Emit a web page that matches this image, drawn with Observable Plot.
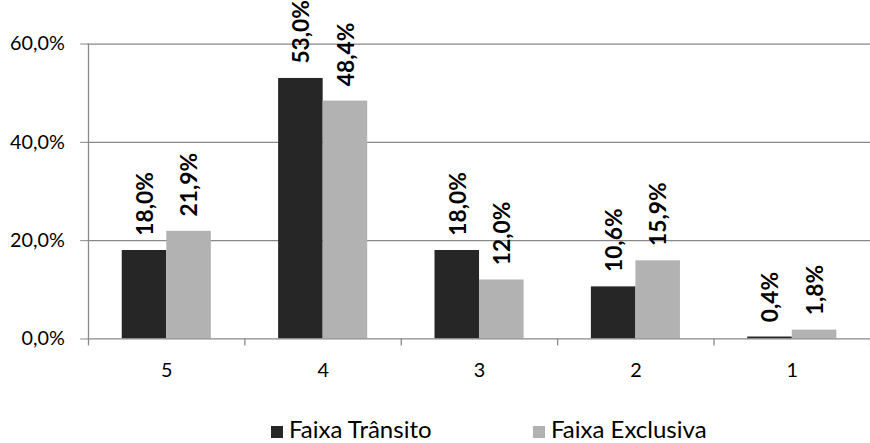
<!DOCTYPE html>
<html><head><meta charset="utf-8">
<script src="https://cdn.jsdelivr.net/npm/d3@7"></script>
<script src="https://cdn.jsdelivr.net/npm/@observablehq/plot@0.6"></script>
<style>
html,body{margin:0;padding:0;background:#fff;overflow:hidden;width:870px;height:443px;}
#wrap{position:relative;width:870px;height:443px;overflow:hidden;}
#chart svg{display:block;}
.sw{position:absolute;width:12px;height:12px;top:426px;}
.lt{position:absolute;top:415px;font-family:Lato,sans-serif;font-size:24px;line-height:28px;color:#000;white-space:nowrap;}
</style></head><body>
<div id="wrap"><div id="chart"></div><div id="legend"></div></div>
<script>
const categories = ["5","4","3","2","1"];
const series = ["Faixa Trânsito","Faixa Exclusiva"];
const transito = [18.0,53.0,18.0,10.6,0.4];
const exclusiva = [21.9,48.4,12.0,15.9,1.8];
const yTicks = [0,20,40,60];
const colors = ["#262626","#b2b2b2"];

const rowsT = categories.map((c,i)=>({cat:c, series:series[0], value:transito[i]}));
const rowsE = categories.map((c,i)=>({cat:c, series:series[1], value:exclusiva[i]}));
const fmt = v => v.toFixed(1).replace(".", ",") + "%";

const W = 879, H = 400, ML = 88, MR = 0, MT = 44, MB = 58;
const padIn = 0.431;
const step = (W - ML - MR) / categories.length;
const bw = step * (1 - padIn);
const grid = "#888888";

const chart = Plot.plot({
  width: W, height: H,
  marginLeft: ML, marginRight: MR, marginTop: MT, marginBottom: MB,
  style: {fontFamily: "Lato, sans-serif", fontSize: "20px", color: "#000", background: "#fff", overflow: "visible"},
  x: {domain: categories, paddingInner: padIn, paddingOuter: padIn/2, align: 0.5, axis: null, label: null},
  y: {domain: [0, 60], axis: null, label: null},
  marks: [
    Plot.ruleY(yTicks.filter(t => t > 0), {y: d => d, stroke: grid, strokeWidth: 1.3}),
    Plot.barY(rowsT, {x: "cat", y: "value", fill: colors[0], insetRight: bw/2}),
    Plot.barY(rowsE, {x: "cat", y: "value", fill: colors[1], insetLeft: bw/2}),
    Plot.text(rowsT, {x: "cat", y: "value", text: d => fmt(d.value), rotate: -90, textAnchor: "start", lineAnchor: "middle", dx: -bw/4 + 1, dy: -15, fontWeight: "bold", fontSize: 23, fill: "#000"}),
    Plot.text(rowsE, {x: "cat", y: "value", text: d => fmt(d.value), rotate: -90, textAnchor: "start", lineAnchor: "middle", dx: bw/4 + 1, dy: -15, fontWeight: "bold", fontSize: 23, fill: "#000"}),
    Plot.ruleY([0], {y: d => d, stroke: grid, strokeWidth: 1.3}),
    Plot.ruleX([categories[0]], {x: d => d, dx: -step/2, y1: 0, y2: 60, stroke: grid, strokeWidth: 1.3}),
    Plot.ruleX(categories, {x: d => d, dx: -step/2, y1: 0, y2: 0, insetBottom: -7, stroke: grid, strokeWidth: 1.3}),
    Plot.ruleX([categories[categories.length-1]], {x: d => d, dx: step/2, y1: 0, y2: 0, insetBottom: -7, stroke: grid, strokeWidth: 1.3}),
    Plot.axisY(yTicks, {tickSize: 7, tickPadding: 16, tickFormat: fmt, stroke: grid, fill: "#000", fontSize: 20, label: null}),
    Plot.axisX({tickSize: 0, tickPadding: 24, fill: "#000", fontSize: 20, label: null})
  ]
});
document.getElementById("chart").appendChild(chart);

const legend = document.getElementById("legend");
const swX = [271, 533];
series.forEach((s, i) => {
  const sw = document.createElement("div");
  sw.className = "sw"; sw.style.left = swX[i] + "px"; sw.style.background = colors[i];
  const t = document.createElement("div");
  t.className = "lt"; t.style.left = (swX[i] + 18) + "px"; t.textContent = s;
  legend.appendChild(sw); legend.appendChild(t);
});
</script>
</body></html>
